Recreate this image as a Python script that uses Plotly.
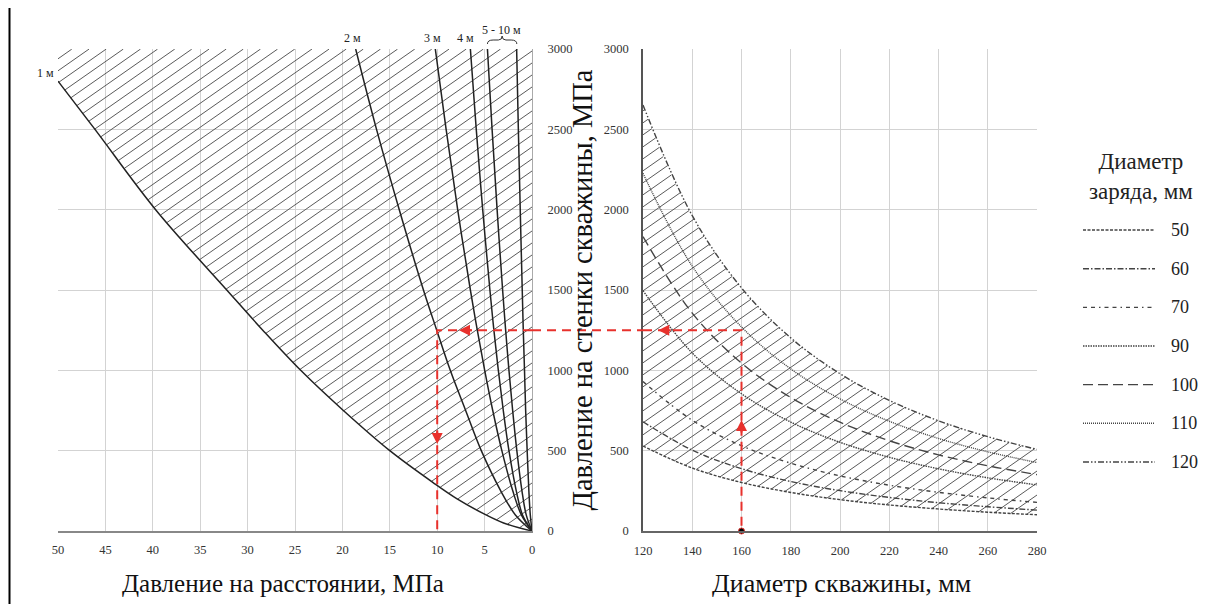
import numpy as np
import plotly.graph_objects as go

# ---------------- data: left chart (pressure at distance vs wall pressure) -------------
R1_P0 = [0, 50, 100, 200, 300, 500, 750, 1000, 1250, 1500, 2000, 2500, 2800]
R1_P = [0, 3.0, 4.85, 7.9, 10.4, 15.0, 19.9, 24.4, 28.4, 32.2, 39.7, 46.1, 50]

P0_LEVELS = [0, 100, 250, 500, 750, 1000, 1250, 1500, 2000, 2500, 3000]
R2_P = [0, 1.75, 3.3, 5.35, 7.0, 8.62, 10.05, 11.45, 14.0, 16.4, 18.6]
R3_P = [0, 1.12, 2.03, 3.18, 4.14, 4.99, 5.77, 6.5, 7.84, 9.06, 10.2]
R4_P = [0, 1.0, 1.66, 2.43, 3.03, 3.55, 4.02, 4.44, 5.2, 5.88, 6.5]
R5_P = [0, 0.61, 1.06, 1.6, 2.04, 2.43, 2.78, 3.1, 3.68, 4.21, 4.7]
R10_P = [0, 0.18, 0.33, 0.51, 0.67, 0.79, 0.92, 1.03, 1.24, 1.44, 1.62]

# ---------------- data: right chart (wall pressure vs borehole diameter) ----------------
HOLE_D = [120, 140, 160, 180, 200, 220, 240, 260, 280]
CHARGE_D = ["50", "60", "70", "90", "100", "110", "120"]
WALL_P = {
    "50": [529, 392, 302, 240, 195, 162, 137, 117, 101],
    "60": [680, 503, 388, 308, 251, 209, 176, 151, 130],
    "70": [930, 689, 531, 422, 343, 285, 241, 206, 178],
    "90": [1496, 1108, 854, 678, 552, 459, 387, 331, 287],
    "100": [1832, 1356, 1045, 831, 677, 562, 474, 406, 351],
    "110": [2226, 1648, 1270, 1009, 822, 683, 576, 493, 426],
    "120": [2651, 1963, 1513, 1202, 979, 813, 686, 587, 508],
}
DASHES = {
    "50": "3px,1.5px",
    "60": "6px,2px,1.5px,2px",
    "70": "4px,4px,4px,4px,1.5px,4px",
    "90": "1.5px,1px",
    "100": "10px,5px",
    "110": "1px,1px",
    "120": "6px,2px,1.5px,2px,1.5px,2px",
}

# example path (red dashed)
EX_DIST_P = 10
EX_WALL_P = 1250
EX_HOLE_D = 160

X_LEFT_MAX = 50
Y_MAX = 3000
X_RIGHT = [120, 280]

# ---------------- layout geometry (screen px) ----------------
OFF = 8                     # page offset of the plot div
W_FIG, H_FIG = 1202, 596
ML, MR, MT, MB = 50, 8, 41, 73
PLOT_W = W_FIG - ML - MR
PLOT_H = H_FIG - MT - MB    # 482
SX0 = ML + OFF              # screen x of paper 0
SY1 = MT + OFF + PLOT_H     # screen y of paper 0


def px(sx):
    return (sx - SX0) / PLOT_W


def py(sy):
    return (SY1 - sy) / PLOT_H


L_DOM = [px(58), px(532)]
R_DOM = [px(643), px(1037)]
LG_DOM = [px(1083), px(1155)]
LEFT_W = 532 - 58
RIGHT_W = 1037 - 643

SERIF = "Liberation Serif, Times New Roman, serif"
CURVE = "#222222"
GRID = "#d3d3d3"
RED = "#e8312c"
HATCH_COLOR = "#5a5a5a"


def hatch(width_px, to_data, inside, slope=0.7, step=12.0):
    us = np.arange(0, width_px + 1e-9, 0.25)
    xs, ys = [], []
    c = -slope * width_px
    while c < PLOT_H:
        vs = slope * us + c
        m = (vs >= 0) & (vs <= PLOT_H)
        if m.any():
            xd, yd = to_data(us, vs)
            m &= inside(xd, yd)
            idx = np.flatnonzero(m)
            if idx.size:
                br = np.flatnonzero(np.diff(idx) > 1)
                starts = np.r_[idx[0], idx[br + 1]]
                ends = np.r_[idx[br], idx[-1]]
                for s, e in zip(starts, ends):
                    xs += [xd[s], xd[e], None]
                    ys += [yd[s], yd[e], None]
        c += step
    return xs, ys


# left hatch: region to the right of the 1 m curve
b_y = np.array(R1_P0 + [Y_MAX], float)
b_x = np.array(R1_P + [X_LEFT_MAX], float)
lhx, lhy = hatch(
    LEFT_W,
    lambda u, v: (X_LEFT_MAX - u * X_LEFT_MAX / LEFT_W, v * Y_MAX / PLOT_H),
    lambda x, y: x <= np.interp(y, b_y, b_x) + 0.02,
)

# right hatch: region between 50 mm and 120 mm curves
ld = np.log(np.array(HOLE_D, float))
lo_l = np.log(np.array(WALL_P["50"], float))
hi_l = np.log(np.array(WALL_P["120"], float))
rhx, rhy = hatch(
    RIGHT_W,
    lambda u, v: (X_RIGHT[0] + u * (X_RIGHT[1] - X_RIGHT[0]) / RIGHT_W, v * Y_MAX / PLOT_H),
    lambda x, y: (y >= np.exp(np.interp(np.log(x), ld, lo_l)) - 1)
    & (y <= np.exp(np.interp(np.log(x), ld, hi_l)) + 1),
)

fig = go.Figure()
fig.add_trace(go.Scatter(x=lhx, y=lhy, mode="lines", line=dict(color=HATCH_COLOR, width=1),
                         showlegend=False, hoverinfo="skip", xaxis="x", yaxis="y"))
fig.add_trace(go.Scatter(x=rhx, y=rhy, mode="lines", line=dict(color=HATCH_COLOR, width=1),
                         showlegend=False, hoverinfo="skip", xaxis="x2", yaxis="y2"))

# ---------- left chart curves ----------
fig.add_trace(go.Scatter(x=R1_P, y=R1_P0, mode="lines",
                         line=dict(color=CURVE, width=1.5, shape="spline"),
                         showlegend=False, xaxis="x", yaxis="y"))
for arr in [R2_P, R3_P, R4_P, R5_P, R10_P]:
    fig.add_trace(go.Scatter(x=arr, y=P0_LEVELS, mode="lines",
                             line=dict(color=CURVE, width=1.5, shape="spline"),
                             showlegend=False, xaxis="x", yaxis="y"))

# ---------- right chart curves + manual legend samples ----------
for i, k in enumerate(CHARGE_D):
    ln = dict(color="#444444", width=1.4, dash=DASHES[k])
    fig.add_trace(go.Scatter(x=HOLE_D, y=WALL_P[k], mode="lines", name=k,
                             line=dict(shape="spline", **ln), showlegend=False,
                             xaxis="x2", yaxis="y2"))
    fig.add_trace(go.Scatter(x=[0, 1], y=[i, i], mode="lines", line=ln, showlegend=False,
                             hoverinfo="skip", cliponaxis=False, xaxis="x3", yaxis="y3"))

# ---------- red example path ----------
red = dict(color=RED, width=2, dash="9px,6px")
fig.add_trace(go.Scatter(x=[0, EX_DIST_P, EX_DIST_P], y=[EX_WALL_P, EX_WALL_P, 0],
                         mode="lines", line=red, showlegend=False, xaxis="x", yaxis="y"))
fig.add_trace(go.Scatter(x=[X_RIGHT[0], EX_HOLE_D, EX_HOLE_D], y=[EX_WALL_P, EX_WALL_P, 0],
                         mode="lines", line=red, showlegend=False, xaxis="x2", yaxis="y2"))
fig.add_trace(go.Scatter(x=[EX_HOLE_D], y=[0], mode="markers",
                         marker=dict(color="black", size=6, line=dict(color=RED, width=1)),
                         showlegend=False, cliponaxis=False, xaxis="x2", yaxis="y2"))

yb0, yb1, yb2 = py(44), py(40), py(36)
shapes = [
    dict(type="line", xref="paper", yref="y", x0=L_DOM[1], x1=R_DOM[0],
         y0=EX_WALL_P, y1=EX_WALL_P, line=red),
    dict(type="path", xref="x", yref="paper",
         path=(f"M 4.7,{yb0} Q 4.7,{yb1} 4.1,{yb1} L 3.55,{yb1} Q 3.15,{yb1} 3.15,{yb2} "
               f"Q 3.15,{yb1} 2.75,{yb1} L 2.2,{yb1} Q 1.6,{yb1} 1.6,{yb0}"),
         line=dict(color="#333", width=1)),
    dict(type="line", xref="paper", yref="paper", x0=px(9.5), x1=px(9.5),
         y0=py(0), y1=py(604), line=dict(color="black", width=2)),
]

ann_font = dict(family=SERIF, size=12, color="#222")
annotations = [
    dict(text="1 м", x=X_LEFT_MAX, y=2850, xref="x", yref="y", xanchor="right",
         yanchor="middle", xshift=-2, showarrow=False, font=ann_font),
]
for txt, xv, sy in [("2 м", 18.9, 38), ("3 м", 10.5, 38), ("4 м", 7.0, 38),
                    ("5 - 10 м", 3.2, 30)]:
    annotations.append(dict(text=txt, x=xv, y=py(sy), xref="x", yref="paper",
                            xanchor="center", yanchor="middle", showarrow=False,
                            font=ann_font))
arrow = dict(text="", showarrow=True, arrowhead=2, arrowsize=1.1, arrowwidth=2,
             arrowcolor=RED)
annotations += [
    dict(x=7.7, y=EX_WALL_P, xref="x", yref="y", ax=14, ay=0, **arrow),
    dict(x=EX_DIST_P, y=541, xref="x", yref="y", ax=0, ay=-14, **arrow),
    dict(x=EX_HOLE_D, y=691, xref="x2", yref="y2", ax=0, ay=14, **arrow),
    dict(x=126.2, y=EX_WALL_P, xref="x2", yref="y2", ax=14, ay=0, **arrow),
]
# axis titles (horizontal)
annotations += [
    dict(text="Давление на расстоянии, МПа", x=px(283), y=py(583), xref="paper",
         yref="paper", xanchor="center", yanchor="middle", showarrow=False,
         font=dict(family=SERIF, size=25, color="#111")),
    dict(text="Диаметр скважины, мм", x=px(841), y=py(583), xref="paper",
         yref="paper", xanchor="center", yanchor="middle", showarrow=False,
         font=dict(family=SERIF, size=26, color="#111")),
]
# legend title and labels
annotations.append(dict(text="Диаметр<br>заряда, мм", x=px(1141), y=py(147), xref="paper",
                        yref="paper", xanchor="center", yanchor="top", showarrow=False,
                        font=dict(family=SERIF, size=23, color="#222")))
for i, k in enumerate(CHARGE_D):
    annotations.append(dict(text=k, x=px(1169), y=i, xref="paper", yref="y3",
                            xanchor="left", yanchor="middle", showarrow=False,
                            font=dict(family=SERIF, size=18, color="#222")))

tick_font = dict(family=SERIF, size=12.5, color="#333")

fig.update_layout(
    width=W_FIG, height=H_FIG, autosize=False,
    margin=dict(l=ML, r=MR, t=MT, b=MB, autoexpand=False),
    paper_bgcolor="white", plot_bgcolor="white",
    font=dict(family=SERIF, color="#222"),
    shapes=shapes, annotations=annotations, showlegend=False,
    xaxis=dict(domain=L_DOM, range=[X_LEFT_MAX, 0], dtick=5, showgrid=True,
               gridcolor=GRID, gridwidth=1, zeroline=False, showline=True,
               linecolor="#888", linewidth=1.5, ticks="", ticklabelstandoff=6,
               tickfont=tick_font, anchor="y", automargin=False),
    yaxis=dict(domain=[0, 1], range=[0, Y_MAX], dtick=500, side="right", showgrid=True,
               gridcolor=GRID, zeroline=False, showline=True, linecolor="#aaa",
               ticks="", ticklabelstandoff=12, tickfont=tick_font, anchor="x",
               automargin=False),
    xaxis2=dict(domain=R_DOM, range=X_RIGHT, dtick=20, showgrid=True, gridcolor=GRID,
                zeroline=False, showline=True, linecolor="#666", linewidth=1.5, ticks="",
                ticklabelstandoff=7, tickfont=tick_font, anchor="y2", automargin=False),
    yaxis2=dict(domain=[0, 1], range=[0, Y_MAX], dtick=500, showgrid=True, gridcolor=GRID,
                zeroline=False, showline=True, linecolor="#555", linewidth=1.5, ticks="",
                ticklabelstandoff=10, tickfont=tick_font, automargin=False,
                title=dict(text="Давление на стенки скважины, МПа",
                           font=dict(family=SERIF, size=28.5, color="#111"), standoff=3),
                anchor="x2"),
    xaxis3=dict(domain=LG_DOM, range=[0, 1], visible=False, fixedrange=True, anchor="y3",
                automargin=False),
    yaxis3=dict(domain=[py(481.3), py(210.7)], range=[6.5, -0.5], visible=False,
                fixedrange=True, anchor="x3", automargin=False),
)

fig.write_html("out.html")
